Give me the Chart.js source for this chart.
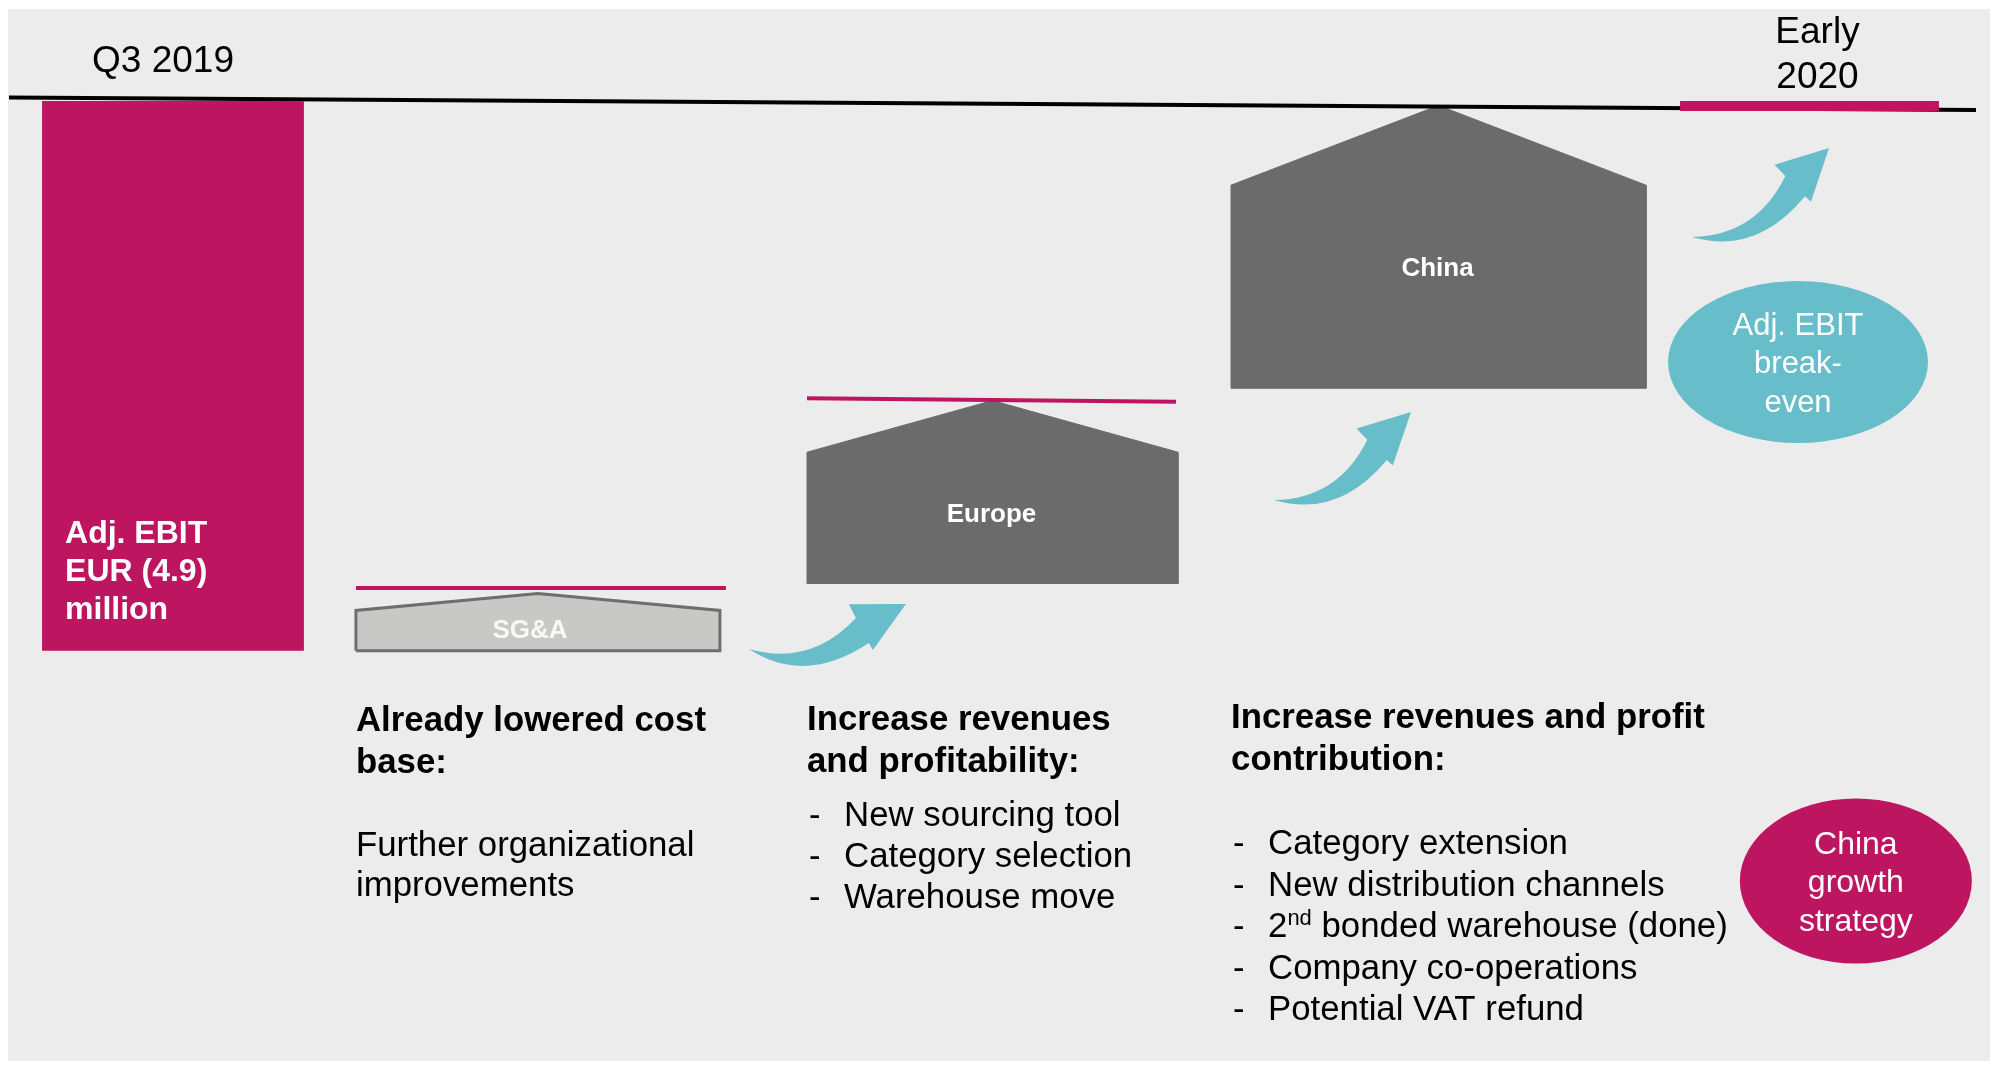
<!DOCTYPE html>
<html>
<head>
<meta charset="utf-8">
<script src="https://cdn.jsdelivr.net/npm/chart.js@4.4.1/dist/chart.umd.min.js"></script>
<style>
  html, body { margin: 0; padding: 0; background: #fff; overflow: hidden; }
  #wrap { position: relative; width: 2002px; height: 1066px; }
</style>
</head>
<body>
<div id="wrap"><canvas id="bridge"></canvas></div>
<script>
// Adj. EBIT bridge, EUR million
const categories = ["Q3 2019", "SG&A", "Europe", "China", "Early 2020"];
const ebitStart = -4.9;            // Q3 2019 bar (0 down to -4.9)
const ebitEnd = [0, -0.09];        // Early 2020 marker on the break-even line
const breakEven = [0.03, -0.08];   // the black line, a bit tilted in the original

// the three "house" steps: SG&A, Europe, China
const stepNames = ["SG&A", "Europe", "China"];
const stepBase = [-4.9, -4.3, -2.56];
const stepShoulder = [-4.54, -3.13, -0.75];
const stepPeak = [-4.39, -2.67, -0.04];

// magenta target lines above SG&A and Europe (left end, right end)
const targetLeft = [-4.34, -2.65];
const targetRight = [-4.34, -2.68];

// texts
const colHeads = [
  ["Already lowered cost", "base:"],
  ["Increase revenues", "and profitability:"],
  ["Increase revenues and profit", "contribution:"]
];
const colBodies = [
  [["Further organizational"], ["improvements"]],
  [["New sourcing tool"], ["Category selection"], ["Warehouse move"]],
  [["Category extension"], ["New distribution channels"], ["2", "nd", " bonded warehouse (done)"], ["Company co-operations"], ["Potential VAT refund"]]
];
const startLabel = ["Adj. EBIT", "EUR (4.9)", "million"];
const bubbleTeal = ["Adj. EBIT", "break-", "even"];
const bubbleMagenta = ["China", "growth", "strategy"];

// ---- layout (x axis runs 0..100 across the slide) ----
const slotStart = [2.1, 15.18];
const slotSteps = [[17.78, 35.96], [40.31, 58.84], [61.49, 82.22]];
const slotEnd = [83.92, 96.85];
const slotLine = [0.45, 98.7];
const slotTargets = [[17.78, 36.26], [40.31, 58.74]];

const MAGENTA = "#bd1560";
const TEAL = "#67bdc9";
const DARK = "#6b6b6b";
const LIGHT = "#c8c8c6";
const FONT = '"Liberation Sans", Arial, sans-serif';

function rect(x0, x1, y0, y1) {
  return [{x: x0, y: y0}, {x: x0, y: y1}, {x: x1, y: y1}, {x: x1, y: y0}];
}
function house(i) {
  const [x0, x1] = slotSteps[i];
  return [
    {x: x0, y: stepBase[i]}, {x: x0, y: stepShoulder[i]},
    {x: (x0 + x1) / 2, y: stepPeak[i]},
    {x: x1, y: stepShoulder[i]}, {x: x1, y: stepBase[i]},
    {x: x0, y: stepBase[i]}
  ];
}
const shapeStyle = {fill: "shape", pointRadius: 0, tension: 0, borderJoinStyle: "miter"};

const datasets = [
  Object.assign({label: categories[4], data: rect(slotEnd[0], slotEnd[1], ebitEnd[0], ebitEnd[1]),
    backgroundColor: MAGENTA, borderColor: "rgba(0,0,0,0)", borderWidth: 0}, shapeStyle),
  Object.assign({label: categories[0], data: rect(slotStart[0], slotStart[1], 0, ebitStart),
    backgroundColor: MAGENTA, borderColor: "rgba(0,0,0,0)", borderWidth: 0}, shapeStyle),
  {label: "break-even", data: [{x: slotLine[0], y: breakEven[0]}, {x: slotLine[1], y: breakEven[1]}],
    borderColor: "#000", borderWidth: 4, pointRadius: 0, fill: false},
  ...targetLeft.map((v, i) => ({label: "target " + stepNames[i],
    data: [{x: slotTargets[i][0], y: v}, {x: slotTargets[i][1], y: targetRight[i]}],
    borderColor: MAGENTA, borderWidth: 4, pointRadius: 0, fill: false})),
  ...stepNames.map((name, i) => Object.assign({label: name, data: house(i),
    backgroundColor: i === 0 ? LIGHT : DARK,
    borderColor: i === 0 ? "#6e6e6e" : DARK, borderWidth: i === 0 ? 3 : 1}, shapeStyle))
];

// curved arrow outline, in units of tail->tip length (u along, v across)
const arrowShape = {
  upperCtrl: [0.334, 0.208], notchTop: [0.682, -0.002], barbTop: [0.664, -0.0955],
  tip: [1, 0], barbBottom: [0.728, 0.2155], notchBottom: [0.716, 0.167], lowerCtrl: [0.266, 0.309]
};
// arrow tail / tip in chart units
const arrows = [
  [[37.41, -4.884], [45.25, -4.483]],
  [[63.64, -3.556], [70.48, -2.772]],
  [[84.52, -1.212], [91.36, -0.419]]
];

function drawArrow(ctx, tx, ty, px, py) {
  const dx = px - tx, dy = py - ty, L = Math.hypot(dx, dy);
  const d = [dx / L, dy / L], n = [-d[1], d[0]];
  const P = ([u, v]) => [tx + (u * d[0] + v * n[0]) * L, ty + (u * d[1] + v * n[1]) * L];
  const s = arrowShape;
  ctx.beginPath();
  ctx.moveTo(tx, ty);
  ctx.quadraticCurveTo(...P(s.upperCtrl), ...P(s.notchTop));
  ctx.lineTo(...P(s.barbTop));
  ctx.lineTo(...P(s.tip));
  ctx.lineTo(...P(s.barbBottom));
  ctx.lineTo(...P(s.notchBottom));
  ctx.quadraticCurveTo(...P(s.lowerCtrl), tx, ty);
  ctx.closePath();
  ctx.fillStyle = TEAL;
  ctx.fill();
}

function write(ctx, str, x, y, font, color, align) {
  ctx.font = font;
  ctx.fillStyle = color;
  ctx.textAlign = align || "left";
  ctx.textBaseline = "alphabetic";
  ctx.fillText(str, x, y);
}

const slidePlugin = {
  id: "slide",
  beforeDraw(chart) {
    const ctx = chart.ctx;
    ctx.save();
    ctx.fillStyle = "#fff";
    ctx.fillRect(0, 0, chart.width, chart.height);
    ctx.fillStyle = "#ececec";
    ctx.fillRect(8, 9, 1982, 1052);
    ctx.restore();
  },
  afterDatasetsDraw(chart) {
    const ctx = chart.ctx;
    const X = v => chart.scales.x.getPixelForValue(v);
    const Y = v => chart.scales.y.getPixelForValue(v);
    ctx.save();

    // arrows
    arrows.forEach(([t, p]) => drawArrow(ctx, X(t[0]), Y(t[1]), X(p[0]), Y(p[1])));

    // bubbles
    const bubbles = [
      {cx: 89.81, cy: -2.326, rx: 130, ry: 81, color: TEAL, lines: bubbleTeal, size: 31},
      {cx: 92.7, cy: -6.951, rx: 116, ry: 82.5, color: MAGENTA, lines: bubbleMagenta, size: 32}
    ];
    bubbles.forEach(b => {
      const cx = X(b.cx), cy = Y(b.cy);
      ctx.beginPath();
      ctx.ellipse(cx, cy, b.rx, b.ry, 0, 0, Math.PI * 2);
      ctx.fillStyle = b.color;
      ctx.fill();
      b.lines.forEach((s, i) => write(ctx, s, cx, cy - 27 + i * 38.5, `${b.size}px ${FONT}`, "#fff", "center"));
    });

    // period labels
    write(ctx, categories[0], X(slotStart[0]) + 50, 72, `37px ${FONT}`, "#000");
    const endX = (X(slotEnd[0]) + X(slotEnd[1])) / 2 + 8;
    write(ctx, "Early", endX, 43, `37px ${FONT}`, "#000", "center");
    write(ctx, "2020", endX, 88, `37px ${FONT}`, "#000", "center");

    // start bar label
    startLabel.forEach((s, i) => write(ctx, s, X(slotStart[0]) + 23, Y(ebitStart) - 108 + i * 38,
      `bold 32px ${FONT}`, "#fff"));

    // house labels
    const nudge = [[-8, 7], [-1, 4.5], [-1, -10.5]];
    stepNames.forEach((name, i) => {
      const cx = (X(slotSteps[i][0]) + X(slotSteps[i][1])) / 2 + nudge[i][0];
      const cy = (Y(stepBase[i]) + Y(stepShoulder[i])) / 2 + nudge[i][1];
      write(ctx, name, cx, cy, `bold 26px ${FONT}`, i === 0 ? "#f8f8f8" : "#fff", "center");
    });

    // text columns under the steps
    const headY = [731, 730, 728];
    const bodyY = [856, 826, 854];
    const gap = [40, 41, 41.5];
    colHeads.forEach((lines, c) => {
      const x0 = X(slotSteps[c][0]);
      lines.forEach((s, i) => write(ctx, s, x0, headY[c] + i * 42, `bold 34.8px ${FONT}`, "#000"));
      colBodies[c].forEach((runs, i) => {
        const y = bodyY[c] + i * gap[c];
        let x = x0;
        if (c > 0) {
          write(ctx, "-", x0 + 2, y, `34.5px ${FONT}`, "#000");
          x = x0 + 37;
        }
        runs.forEach((r, k) => {
          const sup = runs.length > 1 && k === 1;
          const font = sup ? `22px ${FONT}` : `34.8px ${FONT}`;
          write(ctx, r, x, sup ? y - 12 : y, font, "#000");
          ctx.font = font;
          x += ctx.measureText(r).width;
        });
      });
    });
    ctx.restore();
  }
};

new Chart(document.getElementById("bridge"), {
  type: "line",
  data: {datasets},
  options: {
    responsive: true,
    maintainAspectRatio: false,
    animation: false,
    events: [],
    layout: {padding: 0},
    plugins: {legend: {display: false}, tooltip: {enabled: false}},
    scales: {
      x: {type: "linear", min: 0, max: 100, display: false},
      y: {type: "linear", min: -8.6, max: 0.9, display: false}
    }
  },
  plugins: [slidePlugin]
});
</script>
</body>
</html>
